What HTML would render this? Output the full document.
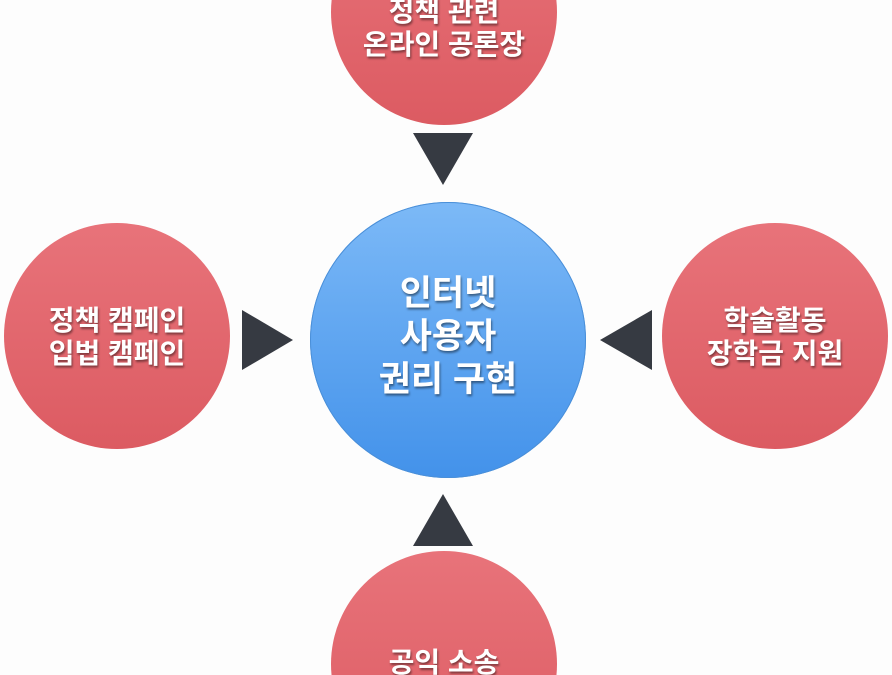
<!DOCTYPE html>
<html style="overflow:hidden"><head><meta charset="utf-8"><style>
html,body{margin:0;width:892px;height:675px;overflow:hidden}
body{background:#fdfdfd;font-family:"Liberation Sans","Noto Sans CJK KR",sans-serif}
#w{position:relative;width:892px;height:675px;overflow:hidden}
.c{position:absolute;border-radius:50%}
.r{width:226px;height:226px;background:linear-gradient(#e8737a,#dc5b62)}
.t{position:absolute;width:300px;text-align:center;color:#fff;font-weight:bold;text-shadow:1px 2px 2px rgba(0,0,0,.45);font-size:28px;line-height:33px}
</style></head><body><div id="w">
<div class="c r" style="left:331px;top:-101px"></div>
<div class="c r" style="left:4px;top:223px"></div>
<div class="c r" style="left:662px;top:223px"></div>
<div class="c r" style="left:331px;top:551px"></div>
<div class="c" style="left:310px;top:202px;width:276px;height:276px;background:linear-gradient(#7cb9f7,#4392ea);box-shadow:inset 0 0 0 1px #4a8fd8"></div>
<div class="t" style="left:294px;top:-5px">정책 관련<br>온라인 공론장</div>
<div class="t" style="left:-33px;top:304px">정책 캠페인<br>입법 캠페인</div>
<div class="t" style="left:625px;top:304px">학술활동<br>장학금 지원</div>
<div class="t" style="left:294px;top:646px">공익 소송</div>
<div class="t" style="left:298px;top:272px;font-size:35px;line-height:43px">인터넷<br>사용자<br>권리 구현</div>
<svg width="892" height="675" style="position:absolute;left:0;top:0">
<g fill="#363a42">
<polygon points="413,133 473,133 443,185"/>
<polygon points="413,546 473,546 443,494"/>
<polygon points="242,310 242,370 293,340"/>
<polygon points="652,310 652,370 600,340"/>
</g></svg>
</div></body></html>
